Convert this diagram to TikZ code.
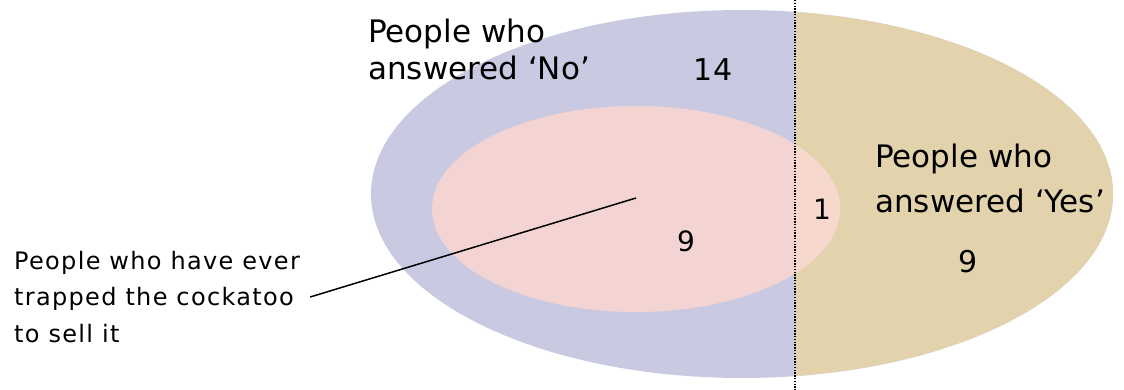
\documentclass[tikz,border=0pt]{standalone}
\usepackage{fontspec}
\setmainfont{DejaVu Sans}
\newfontfamily\lblfont[LetterSpace=5.5]{DejaVu Sans}

\definecolor{noblue}{RGB}{201,202,226}
\definecolor{yestan}{RGB}{226,211,173}
\definecolor{trappink}{RGB}{244,212,210}
\definecolor{trappinkr}{RGB}{247,216,204}

\begin{document}
\begin{tikzpicture}[x=1pt, y=-1pt,
    nolbl/.style={font=\fontsize{31}{37}\selectfont, align=left, inner sep=0pt},
    yeslbl/.style={font=\fontsize{31}{45}\selectfont, align=left, inner sep=0pt},
    num/.style={font=\fontsize{30}{36}\selectfont, inner sep=0pt},
    smallnum/.style={font=\fontsize{28}{32}\selectfont, inner sep=0pt},
    lbl/.style={font=\lblfont\fontsize{24}{36.5}\selectfont, align=left, inner sep=0pt},
    split/.style={line width=1.4pt, dash pattern=on 1.4pt off 1.4pt},
]
\useasboundingbox (0,0) rectangle (1124,390);

% answered No / Yes
\fill[noblue] (742,194) ellipse [x radius=371, y radius=184];
\begin{scope}
  \clip (795,0) rectangle (1124,390);
  \fill[yestan] (742,194) ellipse [x radius=371, y radius=184];
\end{scope}

% trapped the cockatoo
\fill[trappink] (636,209) ellipse [x radius=204, y radius=103];
\begin{scope}
  \clip (795,0) rectangle (1124,390);
  \fill[trappinkr] (636,209) ellipse [x radius=204, y radius=103];
\end{scope}

% split between the answers
\coordinate (splittop) at (795,0);
\coordinate (splitbot) at (795,390);
\draw[split] (splittop) -- (splitbot);

\node[nolbl, anchor=north west] (no)  at (368,19)  {People who\\answered ‘No’};
\node[yeslbl, anchor=north west] (yes) at (875,144) {People who\\answered ‘Yes’};

\node[num]      (noonly)  at (713,70)  {14};
\node[smallnum] (trapno)  at (686,241) {9};
\node[smallnum] (trapyes) at (822,209) {1};
\node[num]      (yesonly) at (968,262) {9};

\node[lbl, anchor=west] (trap) at (14,297) {People who have ever\\trapped the cockatoo\\to sell it};
\coordinate (pointer) at (636,198);
\draw[line width=1.5pt] ([xshift=10pt]trap.east) -- (pointer);

\end{tikzpicture}
\end{document}
